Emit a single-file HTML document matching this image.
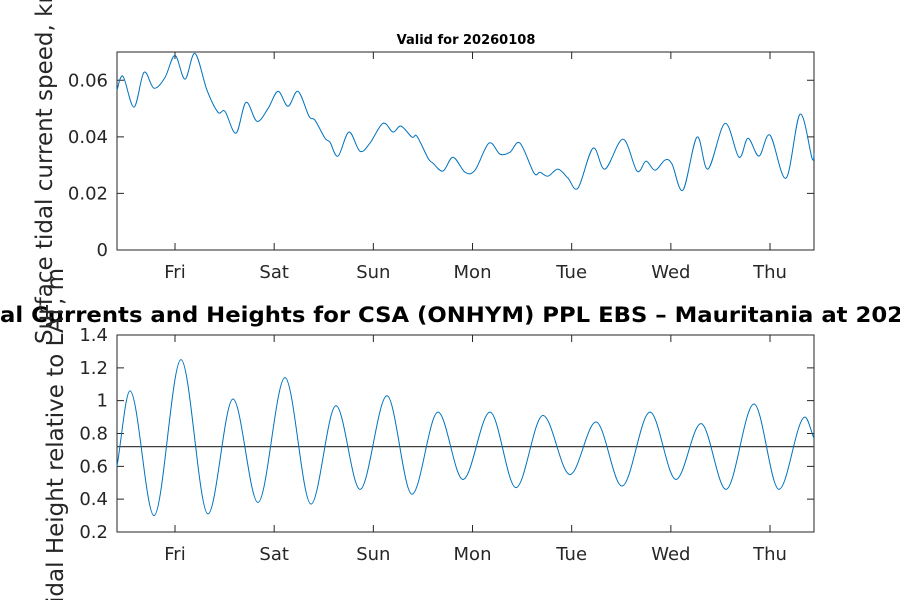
<!DOCTYPE html>
<html><head><meta charset="utf-8"><style>
body{margin:0;background:#fff;width:900px;height:600px;overflow:hidden}
svg text{font-family:"DejaVu Sans","Liberation Sans",sans-serif;fill:#262626}
</style></head><body>
<svg id="c" width="900" height="600"></svg>
<script>
const dayLabels=["Fri","Sat","Sun","Mon","Tue","Wed","Thu"];
const dayTicks=[1,2,3,4,5,6,7];
const speedTicks=[0,0.02,0.04,0.06];
const heightTicks=[0.2,0.4,0.6,0.8,1,1.2,1.4];
const speedPx=[117,123,134,144,154,165,175,185,195,207,218,225,236,246,257,268,278,288,298,309,315,325,330,338,349,360,370,383,393,401,412,417,428,433,443,453,465,475,489,500,510,520,534,540,548,558,568,578,593,605,623,637,646,655,665,672,683,697,708,725,739,748,759,770,786,800,812,814];
const speedVals=[0.0565,0.0614,0.0505,0.0628,0.0572,0.061,0.0688,0.0604,0.0695,0.0565,0.0487,0.049,0.0413,0.0522,0.0455,0.050,0.0561,0.0508,0.0561,0.0473,0.0459,0.0395,0.0381,0.0332,0.0417,0.0349,0.0378,0.0448,0.0417,0.0438,0.0399,0.0402,0.0325,0.0307,0.0279,0.0328,0.0275,0.0282,0.0378,0.0339,0.0346,0.0378,0.0272,0.0275,0.0261,0.0286,0.0254,0.0219,0.036,0.0286,0.0392,0.0279,0.0314,0.0282,0.0318,0.0304,0.0212,0.0399,0.0286,0.0448,0.0328,0.0395,0.0332,0.0406,0.0254,0.048,0.0325,0.0342];
const heightPx=[117,130,154,181,208,233,258,285,311,336,360,387,412,438,463,490,516,543,570,596,622,650,676,701,726,754,779,805,814];
const heightVals=[0.6,1.06,0.30,1.25,0.31,1.01,0.38,1.14,0.37,0.97,0.46,1.03,0.43,0.93,0.52,0.93,0.47,0.91,0.55,0.87,0.48,0.93,0.52,0.86,0.46,0.98,0.46,0.90,0.77];
const meanLevel=0.72;
const PX0=175,PPD=99.17;
const speedT=speedPx.map(p=>1+(p-PX0)/PPD);
const heightT=heightPx.map(p=>1+(p-PX0)/PPD);
const T0=1+(117-PX0)/PPD,T1=1+(814-PX0)/PPD;
const L=117,R=814;
const xs=t=>L+(t-T0)/(T1-T0)*(R-L);
const ys1=v=>250-v/0.07*(250-52);
const ys2=v=>532-(v-0.2)/1.2*(532-335);
const NS="http://www.w3.org/2000/svg",svg=document.getElementById('c');
function mk(tag,a,txt){const e=document.createElementNS(NS,tag);for(const k in a)e.setAttribute(k,a[k]);if(txt!=null)e.textContent=txt;svg.appendChild(e);return e;}
function smooth(T,V,ys,mono){
  const P=T.map((t,i)=>[xs(t),ys(V[i])]);let d=`M${P[0][0]},${P[0][1]}`;
  for(let i=0;i<P.length-1;i++){
    const p0=P[i-1]||P[i],p1=P[i],p2=P[i+1],p3=P[i+2]||P[i+1];
    let c1=[p1[0]+(p2[0]-p0[0])/6,p1[1]+(p2[1]-p0[1])/6];
    let c2=[p2[0]-(p3[0]-p1[0])/6,p2[1]-(p3[1]-p1[1])/6];
    if(mono){c1=[p1[0]+(p2[0]-p1[0])/3,p1[1]];c2=[p2[0]-(p2[0]-p1[0])/3,p2[1]];if(i==0)c1=[p1[0]+(p2[0]-p1[0])/3,p1[1]+(p2[1]-p1[1])/3];if(i==P.length-2)c2=[p2[0]-(p2[0]-p1[0])/3,p2[1]-(p2[1]-p1[1])/3];}
    d+=`C${c1[0]},${c1[1]} ${c2[0]},${c2[1]} ${p2[0]},${p2[1]}`;
  }return d;}
function axes(top,bot,ticks,ys,name){
  mk('rect',{x:L,y:top,width:R-L,height:bot-top,fill:'none',stroke:'#262626','stroke-width':1,});
  ticks.forEach(v=>{const y=ys(v);
    let e=mk('path',{d:`M${L},${y}h7M${R},${y}h-7`,stroke:'#262626'});
    
    
    e=mk('text',{x:L-9,y:y+6,'text-anchor':'end','font-size':18},String(v));
    
    });
  dayTicks.forEach((t,i)=>{const x=xs(t);
    let e=mk('path',{d:`M${x},${bot}v-7M${x},${top}v7`,stroke:'#262626'});
    
    
    e=mk('text',{x:x,y:bot+28,'text-anchor':'middle','font-size':18},dayLabels[i]);
    
    });
}
axes(52,250,speedTicks,ys1,'speed');
axes(335,532,heightTicks,ys2,'height');
let e=mk('path',{d:smooth(speedT,speedVals,ys1,false),fill:'none',stroke:'#0072bd','stroke-width':1});


e=mk('line',{x1:L,x2:R,y1:ys2(meanLevel),y2:ys2(meanLevel),stroke:'#404040','stroke-width':1.2});


e=mk('path',{d:smooth(heightT,heightVals,ys2,true),fill:'none',stroke:'#0072bd','stroke-width':1});


e=mk('text',{x:466,y:44,'text-anchor':'middle','font-size':13,'font-weight':'bold',style:'fill:#000'},'Valid for 20260108');


e=mk('text',{x:0,y:322,'font-size':21,'font-weight':'bold',style:'fill:#000',textLength:903,lengthAdjust:'spacingAndGlyphs'},'al Currents and Heights for CSA (ONHYM) PPL EBS  \u2013 Mauritania at 202');


e=mk('text',{x:0,y:0,'text-anchor':'start','font-size':23,transform:'translate(52,344) rotate(-90)'},'Surface tidal current speed, kn');


e=mk('text',{x:0,y:0,'text-anchor':'end','font-size':23,transform:'translate(63,268) rotate(-90)'},'Tidal Height relative to LAT, m');


</script>
</body></html>
